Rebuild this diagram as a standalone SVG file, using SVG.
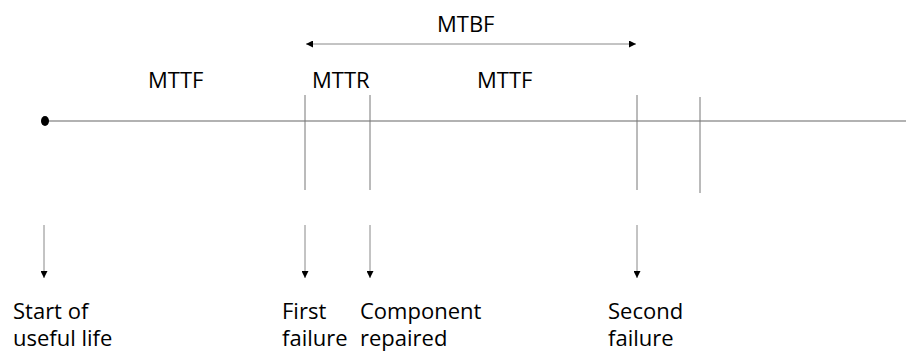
<svg xmlns="http://www.w3.org/2000/svg" width="906" height="356" viewBox="0 0 906 356">
<style>
text{font-family:"Open Sans","Noto Sans","Liberation Sans",sans-serif;font-size:22px;fill:#000}
.tl{stroke:#999;stroke-width:1.5;fill:none}
.tick{stroke:#777;stroke-width:1;fill:none}
.arr{stroke:#888;stroke-width:1;fill:none}
</style>
<defs>
<marker id="ah" viewBox="0 0 10 10" refX="10" refY="5" markerWidth="8" markerHeight="7" markerUnits="userSpaceOnUse" orient="auto-start-reverse">
<path d="M0,0 L10,5 L0,10 z" fill="#000"/>
</marker>
<marker id="dn" viewBox="0 0 10 10" refX="10" refY="5" markerWidth="8" markerHeight="7" markerUnits="userSpaceOnUse" orient="auto">
<path d="M0,0 L10,5 L0,10 z" fill="#000"/>
</marker>
</defs>
<g id="timeline">
<line class="tl" x1="45" y1="121" x2="906" y2="121"/>
<ellipse cx="45" cy="121" rx="4" ry="5" fill="#000"/>
</g>
<g id="ticks">
<line class="tick" x1="305" y1="95" x2="305" y2="190"/>
<line class="tick" x1="370" y1="95" x2="370" y2="190"/>
<line class="tick" x1="637" y1="95" x2="637" y2="190"/>
<line class="tick" x1="700" y1="97" x2="700" y2="193"/>
</g>
<g id="labels-top">
<text x="437" y="32">MTBF</text>
<text x="148" y="88">MTTF</text>
<text x="312" y="88">MTTR</text>
<text x="477" y="88">MTTF</text>
</g>
<g id="connectors">
<line class="arr" x1="306" y1="44" x2="636" y2="44" marker-start="url(#ah)" marker-end="url(#ah)"/>
<line class="arr" x1="44" y1="225" x2="44" y2="278" marker-end="url(#dn)"/>
<line class="arr" x1="305" y1="225" x2="305" y2="278" marker-end="url(#dn)"/>
<line class="arr" x1="370" y1="225" x2="370" y2="278" marker-end="url(#dn)"/>
<line class="arr" x1="637" y1="225" x2="637" y2="278" marker-end="url(#dn)"/>
</g>
<g id="start">
<text x="13" y="319">Start of</text>
<text x="13" y="346">useful life</text>
</g>
<g id="first-failure">
<text x="282" y="319">First</text>
<text x="282" y="346">failure</text>
</g>
<g id="component-repaired">
<text x="360" y="319">Component</text>
<text x="360" y="346">repaired</text>
</g>
<g id="second-failure">
<text x="608" y="319">Second</text>
<text x="608" y="346">failure</text>
</g>
</svg>
